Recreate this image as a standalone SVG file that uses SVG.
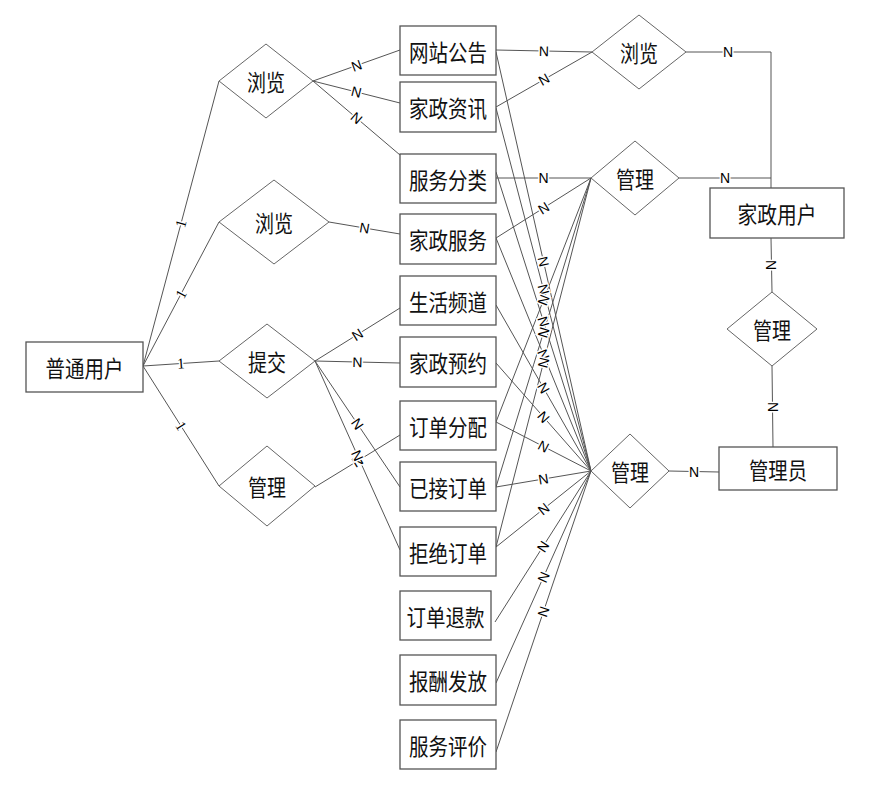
<svg xmlns="http://www.w3.org/2000/svg" width="875" height="789" viewBox="0 0 875 789">
<style>
.box{fill:#fff;stroke:#555;stroke-width:1.3}
.dia{fill:#fff;stroke:#666;stroke-width:1}
.t{font-family:"Noto Sans CJK SC",sans-serif;font-size:23px;text-anchor:middle;dominant-baseline:central;fill:#111}
.c line,.c polyline{stroke:#555;stroke-width:1;fill:none}
.l{font-family:"Liberation Sans",sans-serif;font-size:14px;fill:#000;text-anchor:middle;dominant-baseline:central;stroke:#fff;stroke-width:3;paint-order:stroke}
.one{font-family:"Liberation Serif",serif;font-size:15px}
</style>
<rect width="875" height="789" fill="#fff"/>
<g id="connectors" class="c">
<line x1="143" y1="366" x2="219" y2="81"/>
<line x1="143" y1="366" x2="219" y2="222"/>
<line x1="143" y1="366" x2="219" y2="361"/>
<line x1="143" y1="366" x2="219" y2="486"/>
<line x1="313" y1="81" x2="400" y2="50"/>
<line x1="313" y1="81" x2="400" y2="103"/>
<line x1="313" y1="81" x2="400" y2="155"/>
<line x1="329" y1="222" x2="400" y2="234"/>
<line x1="315" y1="361" x2="400" y2="308"/>
<line x1="315" y1="361" x2="400" y2="363"/>
<line x1="315" y1="361" x2="400" y2="487"/>
<line x1="315" y1="361" x2="400" y2="550"/>
<line x1="315" y1="487" x2="400" y2="435"/>
<line x1="496" y1="50" x2="592" y2="52"/>
<line x1="496" y1="107" x2="592" y2="52"/>
<polyline points="686,52 771,52 771,188"/>
<line x1="496" y1="178" x2="591" y2="178"/>
<line x1="496" y1="238" x2="591" y2="178"/>
<line x1="679" y1="178" x2="771" y2="178"/>
<line x1="771" y1="238" x2="772" y2="292"/>
<line x1="772" y1="366" x2="773" y2="447"/>
<line x1="669" y1="471" x2="719" y2="472"/>
<line x1="496" y1="422" x2="591" y2="178"/>
<line x1="496" y1="487" x2="591" y2="178"/>
<line x1="496" y1="547" x2="591" y2="178"/>
<line x1="496" y1="52" x2="591" y2="471"/>
<line x1="496" y1="108" x2="591" y2="471"/>
<line x1="496" y1="172" x2="591" y2="471"/>
<line x1="496" y1="238" x2="591" y2="471"/>
<line x1="496" y1="305" x2="591" y2="471"/>
<line x1="496" y1="363" x2="591" y2="471"/>
<line x1="496" y1="422" x2="591" y2="471"/>
<line x1="496" y1="487" x2="591" y2="471"/>
<line x1="496" y1="547" x2="591" y2="471"/>
<line x1="495" y1="622" x2="591" y2="471"/>
<line x1="496" y1="683" x2="591" y2="471"/>
<line x1="496" y1="752" x2="591" y2="471"/>
<g id="labels">
<text class="l one" transform="translate(181,223.5) rotate(-75)">1</text>
<text class="l one" transform="translate(181,294) rotate(-62)">1</text>
<text class="l one" transform="translate(181,363.5) rotate(-4)">1</text>
<text class="l one" transform="translate(181,426) rotate(57.6)">1</text>
<text class="l" transform="translate(356.5,65.5) rotate(-19.6)">N</text>
<text class="l" transform="translate(356.5,92) rotate(14.2)">N</text>
<text class="l" transform="translate(356.5,118) rotate(40.4)">N</text>
<text class="l" transform="translate(364.5,228) rotate(9.6)">N</text>
<text class="l" transform="translate(357.5,334.5) rotate(-31.9)">N</text>
<text class="l" transform="translate(357.5,362) rotate(1.3)">N</text>
<text class="l" transform="translate(357.5,424) rotate(56)">N</text>
<text class="l" transform="translate(357.5,461) rotate(-31.5)">N</text>
<text class="l" transform="translate(357.5,455.5) rotate(65.8)">N</text>
<text class="l" transform="translate(544,51) rotate(1.2)">N</text>
<text class="l" transform="translate(544,79.5) rotate(-29.8)">N</text>
<text class="l" transform="translate(728,52)">N</text>
<text class="l" transform="translate(543.5,178)">N</text>
<text class="l" transform="translate(543.5,208) rotate(-32.3)">N</text>
<text class="l" transform="translate(725,178)">N</text>
<text class="l" transform="translate(771,265) rotate(90)">N</text>
<text class="l" transform="translate(772.5,407) rotate(90)">N</text>
<text class="l" transform="translate(694,471.5)">N</text>
<text class="l" transform="translate(543.5,261.5) rotate(77.2)">N</text>
<text class="l" transform="translate(543.5,289.5) rotate(75.3)">N</text>
<text class="l" transform="translate(543.5,321.5) rotate(72.4)">N</text>
<text class="l" transform="translate(543.5,354.5) rotate(67.8)">N</text>
<text class="l" transform="translate(543.5,388) rotate(60.2)">N</text>
<text class="l" transform="translate(543.5,417) rotate(48.7)">N</text>
<text class="l" transform="translate(543.5,446.5) rotate(27.3)">N</text>
<text class="l" transform="translate(543.5,479) rotate(-9.6)">N</text>
<text class="l" transform="translate(543.5,509) rotate(-38.7)">N</text>
<text class="l" transform="translate(543,546.5) rotate(-57.6)">N</text>
<text class="l" transform="translate(543.5,577) rotate(-65.9)">N</text>
<text class="l" transform="translate(543.5,611.5) rotate(-71.3)">N</text>
<text class="l" transform="translate(543.5,300) rotate(-68.7)">N</text>
<text class="l" transform="translate(543.5,332.5) rotate(-72.9)">N</text>
<text class="l" transform="translate(543.5,362.5) rotate(-75.6)">N</text>
</g>
</g>
<g id="putong"><rect class="box" x="26" y="342" width="117" height="50"/><text class="t" x="84.5" y="367" textLength="78" lengthAdjust="spacingAndGlyphs">普通用户</text></g>
<g id="liulan1"><polygon class="dia" points="219,81 266,44 313,81 266,118"/><text class="t" x="266" y="81" textLength="38" lengthAdjust="spacingAndGlyphs">浏览</text></g>
<g id="liulan2"><polygon class="dia" points="219,222 274,180 329,222 274,264"/><text class="t" x="274" y="222" textLength="38" lengthAdjust="spacingAndGlyphs">浏览</text></g>
<g id="tijiao"><polygon class="dia" points="219,361 267,324 315,361 267,398"/><text class="t" x="267" y="361" textLength="38" lengthAdjust="spacingAndGlyphs">提交</text></g>
<g id="guanli1"><polygon class="dia" points="219,486 267,446 315,486 267,526"/><text class="t" x="267" y="486" textLength="38" lengthAdjust="spacingAndGlyphs">管理</text></g>
<g id="wzgg"><rect class="box" x="400" y="26" width="96" height="49"/><text class="t" x="448" y="51" textLength="78" lengthAdjust="spacingAndGlyphs">网站公告</text></g>
<g id="jzzx"><rect class="box" x="400" y="82" width="96" height="50"/><text class="t" x="448" y="107" textLength="78" lengthAdjust="spacingAndGlyphs">家政资讯</text></g>
<g id="fwfl"><rect class="box" x="400" y="154" width="96" height="49"/><text class="t" x="448" y="179" textLength="78" lengthAdjust="spacingAndGlyphs">服务分类</text></g>
<g id="jzfw"><rect class="box" x="400" y="214" width="96" height="50"/><text class="t" x="448" y="239" textLength="78" lengthAdjust="spacingAndGlyphs">家政服务</text></g>
<g id="shpd"><rect class="box" x="400" y="276" width="96" height="49"/><text class="t" x="448" y="301" textLength="78" lengthAdjust="spacingAndGlyphs">生活频道</text></g>
<g id="jzyy"><rect class="box" x="400" y="337" width="96" height="50"/><text class="t" x="448" y="362" textLength="78" lengthAdjust="spacingAndGlyphs">家政预约</text></g>
<g id="ddfp"><rect class="box" x="400" y="401" width="96" height="49"/><text class="t" x="448" y="426" textLength="78" lengthAdjust="spacingAndGlyphs">订单分配</text></g>
<g id="yjdd"><rect class="box" x="400" y="462" width="96" height="49"/><text class="t" x="448" y="487" textLength="78" lengthAdjust="spacingAndGlyphs">已接订单</text></g>
<g id="jjdd"><rect class="box" x="400" y="527" width="96" height="49"/><text class="t" x="448" y="552" textLength="78" lengthAdjust="spacingAndGlyphs">拒绝订单</text></g>
<g id="ddtk"><rect class="box" x="400" y="591" width="91" height="49"/><text class="t" x="445.5" y="616" textLength="78" lengthAdjust="spacingAndGlyphs">订单退款</text></g>
<g id="bcff"><rect class="box" x="400" y="655" width="96" height="50"/><text class="t" x="448" y="680" textLength="78" lengthAdjust="spacingAndGlyphs">报酬发放</text></g>
<g id="fwpj"><rect class="box" x="400" y="720" width="96" height="49"/><text class="t" x="448" y="745" textLength="78" lengthAdjust="spacingAndGlyphs">服务评价</text></g>
<g id="liulan3"><polygon class="dia" points="592,52 639,15 686,52 639,89"/><text class="t" x="639" y="52" textLength="38" lengthAdjust="spacingAndGlyphs">浏览</text></g>
<g id="guanli2"><polygon class="dia" points="591,178 635,141 679,178 635,215"/><text class="t" x="635" y="178" textLength="38" lengthAdjust="spacingAndGlyphs">管理</text></g>
<g id="jzyh"><rect class="box" x="710" y="188" width="134" height="50"/><text class="t" x="777" y="213" textLength="79" lengthAdjust="spacingAndGlyphs">家政用户</text></g>
<g id="guanli3"><polygon class="dia" points="727,329 772,292 817,329 772,366"/><text class="t" x="772" y="329" textLength="38" lengthAdjust="spacingAndGlyphs">管理</text></g>
<g id="guanli4"><polygon class="dia" points="591,471 630,434 669,471 630,508"/><text class="t" x="630" y="471" textLength="38" lengthAdjust="spacingAndGlyphs">管理</text></g>
<g id="gly"><rect class="box" x="719" y="447" width="118" height="43"/><text class="t" x="778" y="468.5" textLength="58" lengthAdjust="spacingAndGlyphs">管理员</text></g>
</svg>
